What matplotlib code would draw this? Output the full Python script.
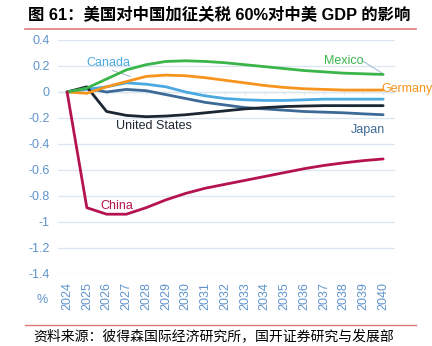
import numpy as np
import matplotlib.pyplot as plt
from matplotlib.lines import Line2D

plt.rcParams['font.family'] = ['Liberation Sans', 'Noto Sans CJK SC', 'DejaVu Sans']

# =========================
# Data (% deviation of GDP)
# =========================
years = list(range(2024, 2041))

mexico = [0, 0.03, 0.10, 0.17, 0.21, 0.235, 0.24, 0.235, 0.225, 0.21, 0.195,
          0.18, 0.165, 0.155, 0.145, 0.14, 0.135]
germany = [0, -0.01, 0.04, 0.08, 0.12, 0.13, 0.125, 0.11, 0.09, 0.07, 0.05,
           0.035, 0.025, 0.02, 0.015, 0.015, 0.015]
canada = [0, 0.02, 0.04, 0.07, 0.06, 0.04, 0.0, -0.03, -0.05, -0.06, -0.065,
          -0.065, -0.06, -0.055, -0.055, -0.055, -0.055]
japan = [0, 0.03, 0.0, 0.02, 0.01, -0.02, -0.05, -0.08, -0.10, -0.12, -0.13,
         -0.14, -0.15, -0.155, -0.16, -0.168, -0.175]
united_states = [0, 0.04, -0.15, -0.18, -0.19, -0.185, -0.175, -0.16, -0.145,
                 -0.13, -0.12, -0.112, -0.108, -0.105, -0.105, -0.105, -0.105]
china = [0, -0.89, -0.94, -0.94, -0.89, -0.83, -0.78, -0.74, -0.71, -0.68,
         -0.65, -0.62, -0.59, -0.565, -0.545, -0.528, -0.515]

yticks = [0.4, 0.2, 0, -0.2, -0.4, -0.6, -0.8, -1, -1.2, -1.4]
ytick_labels = ["0.4", "0.2", "0", "-0.2", "-0.4", "-0.6", "-0.8", "-1", "-1.2", "-1.4"]

TITLE = "图 61：美国对中国加征关税 60%对中美 GDP 的影响"
SOURCE = "资料来源：彼得森国际经济研究所，国开证券研究与发展部"

TICK_COLOR = "#5f93cc"
GRID_COLOR = "#dde7f1"

fig = plt.figure(figsize=(4.32, 3.46), dpi=100)
ax = fig.add_axes([58 / 432, 1 - 274 / 346, 337 / 432, 234 / 346])

series = [
    (japan, "#3d6a96"),
    (canada, "#4ba9e2"),
    (united_states, "#1c2734"),
    (germany, "#f7941d"),
    (mexico, "#3ab54a"),
    (china, "#b5134f"),
]
for vals, col in series:
    ax.plot(years, vals, color=col, lw=2.0, solid_capstyle="round", zorder=3)

ax.set_xlim(2023.54, 2040.6)
ax.set_ylim(-1.4, 0.4)
ax.set_yticks(yticks)
ax.set_yticklabels(ytick_labels)
ax.set_xticks(years)
ax.set_xticklabels([str(y) for y in years], rotation=90)
ax.tick_params(axis="both", length=0, colors=TICK_COLOR, labelsize=9)
ax.tick_params(axis="y", pad=6)
ax.tick_params(axis="x", pad=6)
ax.grid(axis="y", color=GRID_COLOR, lw=1.0)
ax.set_axisbelow(True)
for s in ax.spines.values():
    s.set_visible(False)

# zero line with small tick marks
ax.axhline(0, color=GRID_COLOR, lw=1.0, zorder=1)
for y in years:
    ax.plot([y, y], [0, -0.018], color=GRID_COLOR, lw=1.0, zorder=1)

# series labels
LBL = 9
ax.text(2025.0, 0.22, "Canada", color="#4ba9e2", fontsize=LBL, ha="left", va="center")
ax.add_line(Line2D([2026.3, 2027.2], [0.165, 0.12], color="#9fb5cc", lw=0.7))
ax.text(2037.0, 0.24, "Mexico", color="#3ab54a", fontsize=LBL, ha="left", va="center")
ax.add_line(Line2D([2039.0, 2040.0], [0.235, 0.14], color="#9fb5cc", lw=0.7))
ax.text(2039.9, 0.02, "Germany", color="#f7941d", fontsize=LBL, ha="left", va="center")
ax.text(2026.5, -0.26, "United States", color="#1c2734", fontsize=LBL, ha="left", va="center")
ax.text(2040.1, -0.295, "Japan", color="#3d6a96", fontsize=LBL, ha="right", va="center")
ax.text(2025.7, -0.88, "China", color="#b5134f", fontsize=LBL, ha="left", va="center")

fig.text(42 / 432, 1 - 300 / 346, "%", color=TICK_COLOR, fontsize=9, ha="center", va="center")

# title and source
fig.text(28 / 432, 1 - 15 / 346, TITLE, fontsize=11.8, fontweight="bold",
         ha="left", va="center", family=['Liberation Sans', 'Noto Sans CJK SC'])
fig.add_artist(Line2D([25 / 432, 416 / 432], [1 - 29 / 346, 1 - 29 / 346],
                      color="#e07a7a", lw=1.2))
fig.add_artist(Line2D([25 / 432, 416 / 432], [1 - 325 / 346, 1 - 325 / 346],
                      color="#e07a7a", lw=1.0))
fig.text(33 / 432, 1 - 336 / 346, SOURCE, fontsize=10, ha="left", va="center",
         family=['Noto Sans CJK SC'])

fig.savefig("out.png", dpi=100)
